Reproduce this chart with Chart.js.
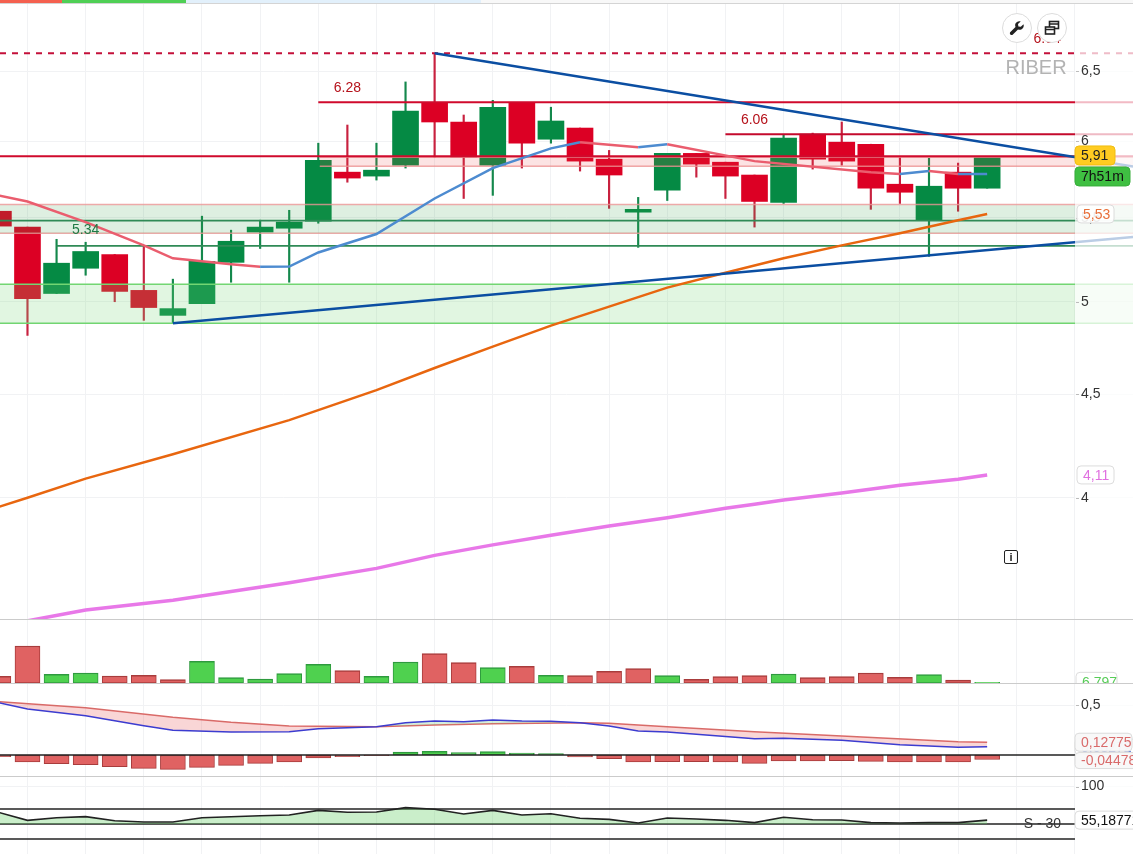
<!DOCTYPE html>
<html>
<head>
<meta charset="utf-8">
<title>RIBER</title>
<script src="https://cdn.jsdelivr.net/npm/chart.js@4/dist/chart.umd.min.js"></script>
<style>
  html, body { margin: 0; padding: 0; background: #fff; overflow: hidden; }
  #page { position: relative; width: 1133px; height: 854px; overflow: hidden; font-family: "Liberation Sans", Arial, sans-serif; }
  canvas { position: absolute; left: 0; display: block; }
  .sep { position: absolute; left: 0; width: 1133px; height: 1px; background: #cbcbcb; }
  .strip { position: absolute; top: 0; height: 3px; border-bottom: 1px solid #d4d4d4; box-sizing: content-box; }
  .tool { position: absolute; top: 13px; width: 28px; height: 28px; border: 1px solid #dcdcdc; border-radius: 50%; background: #fff; }
  .tool svg { position: absolute; left: 6px; top: 6px; }
  #info { position: absolute; left: 1004px; top: 550px; width: 12px; height: 12px; border: 1.5px solid #222; border-radius: 2px; font: bold 11px "Liberation Sans"; line-height: 12px; text-align: center; color: #222; }
</style>
</head>
<body>
<div id="page">
  <canvas id="mainPane" style="top:0"></canvas>
  <canvas id="volumePane" style="top:620px"></canvas>
  <canvas id="macdPane" style="top:684px"></canvas>
  <canvas id="rsiPane" style="top:777px"></canvas>
  <div class="sep" style="top:619px"></div>
  <div class="sep" style="top:683px"></div>
  <div class="sep" style="top:776px"></div>
  <div class="strip" style="left:0;width:62px;background:#f4604f"></div>
  <div class="strip" style="left:62px;width:124px;background:#4fcf55"></div>
  <div class="strip" style="left:186px;width:295px;background:#e2f0fb"></div>
  <div class="strip" style="left:481px;width:652px;background:#f8f8f8"></div>
  <div class="tool" style="left:1002px">
    <svg width="16" height="16" viewBox="0 0 16 16"><path d="M14.5 4.2 11.8 6.8 9.4 6.4 9 4 11.7 1.4C9.6.7 7.3 1.6 6.5 3.6 6 4.7 6.1 5.9 6.5 6.9L1.4 12c-.7.7-.7 1.8 0 2.5s1.8.7 2.5 0L9 9.4c1 .4 2.2.5 3.3 0 2-.8 3-3.1 2.2-5.2z" fill="#222"/></svg>
  </div>
  <div class="tool" style="left:1037px">
    <svg width="16" height="16" viewBox="0 0 16 16" fill="none" stroke="#222" stroke-width="1.6"><rect x="5.5" y="1.5" width="9" height="7"/><rect x="1.5" y="7" width="9" height="7" fill="#fff"/><path d="M1.5 9.5h9M5.5 4h9"/></svg>
  </div>
  <div id="info">i</div>
</div>
<script>
// candles
const candleOpen = [5.542,5.443,5.047,5.194,5.276,5.065,4.923,4.989,5.229,5.412,5.436,5.48,5.794,5.768,5.84,6.273,6.134,5.84,6.266,6.015,6.092,5.88,5.536,5.676,5.919,5.86,5.775,5.598,6.05,5.995,5.981,5.715,5.486,5.794,5.689];
const candleHigh = [5.542,5.443,5.368,5.35,5.276,5.331,5.13,5.511,5.424,5.486,5.548,5.988,6.113,5.988,6.42,6.626,6.183,6.287,6.273,6.238,6.092,5.939,5.63,5.919,5.919,5.86,5.775,6.043,6.057,6.134,5.981,5.893,5.886,5.854,5.893];
const candleLow = [5.449,4.812,5.047,5.153,5.0,4.895,4.879,4.989,5.112,5.312,5.112,5.467,5.728,5.742,5.821,5.893,5.623,5.643,5.821,5.988,5.801,5.56,5.319,5.61,5.761,5.623,5.443,5.591,5.814,5.84,5.554,5.591,5.265,5.542,5.689];
const candleClose = [5.449,5.018,5.224,5.294,5.059,4.967,4.961,5.235,5.356,5.443,5.474,5.873,5.755,5.807,6.21,6.134,5.893,6.238,5.988,6.141,5.867,5.775,5.554,5.919,5.847,5.768,5.604,6.022,5.88,5.867,5.689,5.663,5.702,5.689,5.893];

// moving averages: candle index + value
const fastMaIndex = [0,1,3,5,6,7,8,9,10,11,13,15,17,19,20,22,23,26,30,31,32,33,34];
const fastMaValue = [5.643,5.604,5.474,5.331,5.253,5.235,5.218,5.203,5.204,5.288,5.4,5.623,5.821,5.953,5.995,5.96,5.981,5.867,5.794,5.781,5.801,5.781,5.782];
const midMaIndex = [0,1,3,6,10,13,15,17,19,21,23,25,27,29,31,33,34];
const midMaValue = [3.959,4.001,4.089,4.204,4.37,4.522,4.637,4.751,4.866,4.972,5.081,5.168,5.253,5.331,5.405,5.486,5.525];
const slowMaIndex = [0,3,6,10,13,15,17,19,21,23,25,26,27,29,31,33,34];
const slowMaValue = [3.457,3.521,3.561,3.632,3.692,3.747,3.792,3.834,3.874,3.911,3.953,3.971,3.991,4.023,4.058,4.086,4.106];

// drawn levels and zones on the price pane
const topDashedLevel = 6.633;
const resistanceA = 6.273;
const resistanceB = 6.05;
const resistanceC = 5.9;
const pinkZone = [5.893, 5.833];
const greenZoneUpper = [5.585, 5.405];
const greenZoneLower = [5.1, 4.879];
const supportA = 5.483;
const supportB = 5.328;
const trendDown = [[15, 6.633], [39.015, 5.831]];
const trendUp = [[6, 4.879], [39.015, 5.382]];

const volumeValue = [67,370,87,100,70,77,33,217,53,40,93,187,123,67,210,293,203,153,167,77,73,117,143,73,37,63,73,90,53,63,100,57,83,30,6.797];
const volumeUp = [0,0,1,1,0,0,0,1,1,1,1,1,0,1,1,0,0,1,0,1,0,0,0,1,0,0,0,1,0,0,0,0,1,0,1];

const macdIndex = [0,1,3,5,6,8,10,11,13,14,15,16,17,18,19,20,21,22,23,26,27,29,31,33,34];
const macdValue = [0.523,0.46,0.393,0.293,0.247,0.23,0.233,0.263,0.283,0.323,0.34,0.333,0.35,0.34,0.337,0.323,0.29,0.24,0.23,0.163,0.167,0.147,0.103,0.077,0.083];
const signalIndex = [0,3,6,8,10,13,15,17,20,21,23,26,29,33,34];
const signalValue = [0.533,0.473,0.377,0.327,0.29,0.283,0.3,0.313,0.323,0.317,0.283,0.233,0.19,0.133,0.12775];
const histValue = [-0.017,-0.07,-0.087,-0.097,-0.117,-0.133,-0.143,-0.123,-0.103,-0.083,-0.07,-0.03,-0.017,-0.007,0.03,0.037,0.023,0.033,0.02,0.013,-0.02,-0.037,-0.07,-0.067,-0.067,-0.07,-0.083,-0.06,-0.06,-0.057,-0.063,-0.07,-0.07,-0.07,-0.04478];

const rsiValue = [65.6,54.9,58.4,59.8,54.4,52.7,52.7,58.4,59.7,61,62,68.2,65.6,66,71.8,69.6,63.3,68.2,62,63.7,57.6,56.2,51.3,58,56.7,54.9,51.8,58.9,55.7,55.3,51.8,51.3,51.8,51.8,55.18771];
const rsiLevels = [70, 50, 30];

const priceTicks = [4, 4.5, 5, 5.5, 6, 6.5];
const macdTicks = [0.5];
const rsiTicks = [100];
const gridCandles = [1,3,5,7,9,11,13,15,17,19,21,23,25,27,29,31,33,35,37];

const xMin = 0.055, xMax = 39.015, plotEnd = 37.02; // plotEnd = where the price axis strip starts
const candleIndex = candleOpen.map((_, i) => i);
const GREEN = '#058a44', RED = '#dc0024';
const GRID = '#f1f2f4';

Chart.defaults.font.family = '"Liberation Sans", Arial, sans-serif';
Chart.defaults.font.size = 14;
Chart.defaults.color = '#333';

const pts = (xs, ys) => xs.map((x, i) => ({ x: x, y: ys[i] }));

function lineSet(data, color, width, order, extra) {
  return Object.assign({
    type: 'line', data: data, borderColor: color, borderWidth: width,
    pointRadius: 0, tension: 0, fill: false, order: order
  }, extra || {});
}
function level(value, from, to, color, width, order, extra) {
  return lineSet([{ x: from, y: value }, { x: to, y: value }], color, width, order, extra);
}
function zone(values, from, to, edge, fillColor, order) {
  return [
    level(values[0], from, to, edge, 1.5, order, { fill: { target: '+1', above: fillColor, below: fillColor } }),
    level(values[1], from, to, edge, 1.5, order)
  ];
}
function bars(values, colors, edges, thickness, order) {
  return {
    type: 'bar', data: pts(candleIndex, values), backgroundColor: colors, borderColor: edges,
    borderWidth: edges ? { top: 1.5, left: 1, right: 1, bottom: 1 } : 0, borderSkipped: false,
    barThickness: thickness, grouped: false, order: order
  };
}

function badge(ctx, text, y, left, width, height, fill, edge, color) {
  ctx.save();
  ctx.beginPath();
  ctx.roundRect(left, y - height / 2, width, height, 4);
  ctx.fillStyle = fill;
  ctx.fill();
  if (edge) { ctx.strokeStyle = edge; ctx.lineWidth = 1; ctx.stroke(); }
  ctx.fillStyle = color;
  ctx.font = '14px "Liberation Sans"';
  ctx.textAlign = 'left';
  ctx.textBaseline = 'middle';
  ctx.fillText(text, left + 6, y + 1);
  ctx.restore();
}

// pale strip over the right end, lines keep going under it
const axisStrip = {
  id: 'axisStrip',
  afterDatasetsDraw(chart) {
    const x0 = chart.scales.x.getPixelForValue(plotEnd), c = chart.ctx;
    c.save();
    c.fillStyle = 'rgba(255,255,255,0.72)';
    c.fillRect(x0, 0, chart.width - x0, chart.height);
    c.fillStyle = '#bbb';
    chart.scales.y.ticks.forEach(t => c.fillRect(x0 + 1, Math.round(chart.scales.y.getPixelForValue(t.value)), 3, 1));
    c.restore();
  }
};

function makePane(id, height, datasets, yOptions, extraPlugins) {
  const canvas = document.getElementById(id);
  canvas.width = 1133;
  canvas.height = height;
  canvas.style.width = '1133px';
  canvas.style.height = height + 'px';
  return new Chart(canvas, {
    type: 'bar',
    data: { datasets: datasets },
    plugins: [axisStrip].concat(extraPlugins || []),
    options: {
      responsive: false, animation: false, devicePixelRatio: 1,
      layout: { padding: 0, autoPadding: false },
      plugins: { legend: { display: false }, tooltip: { enabled: false } },
      scales: {
        x: {
          type: 'linear', min: xMin, max: xMax, offset: false,
          grid: { color: GRID, lineWidth: 1, offset: false, drawTicks: false },
          border: { display: false },
          ticks: { display: false },
          afterBuildTicks(s) { s.ticks = gridCandles.map(v => ({ value: v })); },
          afterFit(s) { s.height = 0; s.paddingLeft = s.paddingRight = 0; }
        },
        y: Object.assign({
          position: 'left',
          grid: { color: GRID, lineWidth: 1, drawTicks: false },
          border: { display: false },
          afterFit(s) { s.width = 0; s.paddingTop = s.paddingBottom = 0; }
        }, yOptions)
      }
    }
  });
}

function yTicks(values, format) {
  return {
    afterBuildTicks(s) { s.ticks = values.map(v => ({ value: v })); },
    ticks: {
      mirror: true, padding: 1081, z: 2, color: '#333', autoSkip: false, maxRotation: 0,
      callback: format || (v => String(v).replace('.', ','))
    }
  };
}

// price pane
const priceLabels = {
  id: 'priceLabels',
  afterDraw(chart) {
    const c = chart.ctx, x = chart.scales.x, y = chart.scales.y;
    const note = (text, i, p, color) => {
      c.fillStyle = color;
      c.fillText(text, x.getPixelForValue(i), y.getPixelForValue(p));
    };
    c.save();
    c.font = '14px "Liberation Sans"';
    c.textAlign = 'center';
    c.textBaseline = 'middle';
    note('6.28', 12, 6.373, '#b5121b');
    note('6.06', 26, 6.146, '#b5121b');
    note('5.34', 3, 5.424, '#1f7a45');
    note('6.64', 36.06, 6.739, '#b5121b');
    c.font = '20px "Liberation Sans"';
    note('RIBER', 35.68, 6.52, '#b3b3b3');
    c.restore();
    badge(c, '5,91', y.getPixelForValue(5.905), 1075, 40, 19, '#ffcc22', '#f0bd10', '#222');
    badge(c, '7h51m', y.getPixelForValue(5.905) + 21, 1075, 55, 19, '#3fbf42', '#37ad3a', '#111');
    badge(c, '5,53', y.getPixelForValue(5.525), 1077, 37, 18, 'rgba(255,255,255,0.9)', '#dcdcdc', '#e8703a');
    badge(c, '4,11', y.getPixelForValue(4.106), 1077, 37, 18, 'rgba(255,255,255,0.9)', '#dcdcdc', '#e070e0');
  }
};

const wickColors = candleOpen.map((o, i) => candleClose[i] >= o ? '#14884c' : '#c8213f');
const bodyColors = candleOpen.map((o, i) => candleClose[i] >= o ? GREEN : RED);
const maBlue = '#4d8bd0', maPink = '#ea5d6e';

makePane('mainPane', 620, [
  bars(candleIndex.map(i => [candleLow[i], candleHigh[i]]), wickColors, null, 1.5, 40),
  bars(candleIndex.map(i => [candleOpen[i], candleClose[i]]), bodyColors, null, 26, 39),
  ...zone(greenZoneUpper, xMin, xMax, 'rgba(236,150,150,0.8)', 'rgba(60,160,80,0.17)', 30),
  ...zone(greenZoneLower, xMin, xMax, '#72d672', 'rgba(120,215,120,0.22)', 30),
  ...zone(pinkZone, 11.05, xMax, 'rgba(236,150,150,0.8)', 'rgba(235,70,70,0.15)', 30),
  level(supportA, xMin, xMax, '#2f8a56', 1.6, 25),
  level(supportB, 2, xMax, '#2f8a56', 1.6, 25),
  level(topDashedLevel, xMin, xMax, '#c4103a', 2, 20, { borderDash: [6, 6] }),
  level(resistanceA, 11, xMax, '#d00a2c', 2, 20),
  level(resistanceB, 25, xMax, '#c40a2c', 2, 20),
  level(resistanceC, xMin, xMax, '#d00a2c', 2, 20),
  lineSet(pts(trendDown.map(p => p[0]), trendDown.map(p => p[1])), '#0b4ea2', 2.5, 10),
  lineSet(pts(trendUp.map(p => p[0]), trendUp.map(p => p[1])), '#0b4ea2', 2.5, 10),
  lineSet(pts(slowMaIndex, slowMaValue), '#e878e8', 3.5, 12),
  lineSet(pts(midMaIndex, midMaValue), '#e8660f', 2.5, 12),
  lineSet(pts(fastMaIndex, fastMaValue), maPink, 2.5, 11, {
    segment: { borderColor: s => s.p1.parsed.y > s.p0.parsed.y ? maBlue : maPink }
  })
], Object.assign({ type: 'logarithmic', min: 3.4815, max: 7.047 }, yTicks(priceTicks)), [priceLabels]);

// volume pane
makePane('volumePane', 64, [
  bars(volumeValue, volumeUp.map(u => u ? '#4fd14f' : '#e06262'), volumeUp.map(u => u ? '#2e9a3e' : '#a83c3c'), 25, 5)
], Object.assign({ type: 'linear', min: -10, max: 630 }, yTicks([])), [{
  id: 'volumeBadge',
  afterDraw(chart) {
    badge(chart.ctx, '6,797', chart.scales.y.getPixelForValue(volumeValue[34]), 1076, 41, 20, '#fff', '#dcdcdc', '#58cc58');
  }
}]);

// macd pane
makePane('macdPane', 93, [
  bars(histValue, histValue.map(v => v >= 0 ? '#4fd14f' : '#e06262'), histValue.map(v => v >= 0 ? '#2e9a3e' : '#a83c3c'), 25, 9),
  level(0, xMin, plotEnd, '#222', 1.5, 6),
  lineSet(pts(macdIndex, macdValue), '#3c3cd0', 1.5, 3, {
    fill: { target: '+1', above: 'rgba(90,190,110,0.25)', below: 'rgba(232,90,90,0.25)' }
  }),
  lineSet(pts(signalIndex, signalValue), '#dd6a6a', 1.5, 4)
], Object.assign({ type: 'linear', min: -0.22, max: 0.71 }, yTicks(macdTicks)), [{
  id: 'macdBadges',
  afterDraw(chart) {
    const y = chart.scales.y, c = chart.ctx;
    badge(c, '0,08272', y.getPixelForValue(0.083), 1075, 60, 16, '#fff', '#dcdcdc', '#5a7ad8');
    badge(c, '-0,04478', y.getPixelForValue(-0.0558), 1075, 62, 16, 'rgba(248,248,248,0.95)', '#dcdcdc', '#d96a6a');
    badge(c, '0,12775', y.getPixelForValue(0.1277), 1075, 57, 18, 'rgba(248,248,248,0.97)', '#dcdcdc', '#d96a6a');
  }
}]);

// rsi pane
makePane('rsiPane', 77, [
  lineSet(pts(candleIndex, rsiValue), '#222', 1.6, 3, {
    fill: { target: { value: 50 }, above: 'rgba(100,205,100,0.34)', below: 'rgba(0,0,0,0)' }
  }),
  ...rsiLevels.map(v => level(v, xMin, plotEnd, '#222', 1.5, 6))
], Object.assign({ type: 'linear', min: 10, max: 112.67 }, yTicks(rsiTicks)), [{
  id: 'rsiBadges',
  afterDraw(chart) {
    const y = chart.scales.y, x = chart.scales.x, c = chart.ctx;
    c.save();
    c.font = '14px "Liberation Sans"';
    c.fillStyle = '#333';
    c.textAlign = 'center';
    c.textBaseline = 'middle';
    c.fillText('S - 30', x.getPixelForValue(35.9), y.getPixelForValue(50));
    c.restore();
    badge(c, '55,18771', y.getPixelForValue(55.18771), 1075, 64, 18, '#fff', '#dcdcdc', '#111');
  }
}]);
</script>
</body>
</html>
